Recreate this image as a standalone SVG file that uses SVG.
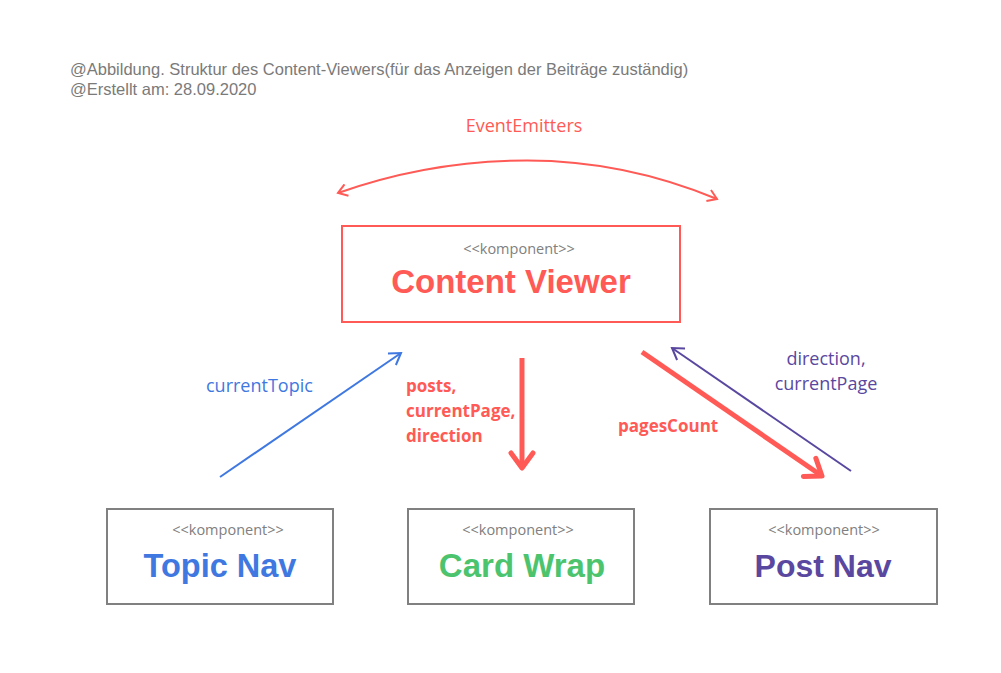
<svg xmlns="http://www.w3.org/2000/svg" width="1001" height="673" viewBox="0 0 1001 673">
<style>
.hdr{font-family:"Liberation Sans",Arial,sans-serif;font-size:16.5px;fill:#7a7a7a}
.box{fill:#fff;stroke:#808080;stroke-width:2}
.stereo{font-family:"Open Sans","Liberation Sans",sans-serif;font-size:14.5px;fill:#808080;text-anchor:middle}
.title{font-family:"Liberation Sans",Arial,sans-serif;font-weight:bold;text-anchor:middle}
.lbl{font-family:"Open Sans","Liberation Sans",sans-serif;font-size:18px}
.lblb{font-family:"Open Sans","Liberation Sans",sans-serif;font-size:17px;font-weight:bold;fill:#FF5A55}
</style>
<defs>
<marker id="hRed" markerWidth="14" markerHeight="14" refX="10" refY="6" orient="auto" markerUnits="userSpaceOnUse" viewBox="0 0 14 12">
<path d="M1,0 L10,6 L1,12" fill="none" stroke="#FF5A55" stroke-width="2"/>
</marker>
<marker id="hBlue" markerWidth="16" markerHeight="16" refX="12" refY="7" orient="auto" markerUnits="userSpaceOnUse" viewBox="0 0 16 14">
<path d="M1,0 L12,7 L1,14" fill="none" stroke="#3F78E0" stroke-width="2"/>
</marker>
<marker id="hPurple" markerWidth="16" markerHeight="16" refX="12" refY="7" orient="auto" markerUnits="userSpaceOnUse" viewBox="0 0 16 14">
<path d="M1,0 L12,7 L1,14" fill="none" stroke="#5A48A0" stroke-width="2"/>
</marker>
<marker id="hThick" markerWidth="28" markerHeight="30" refX="18" refY="13" orient="auto" markerUnits="userSpaceOnUse" viewBox="0 0 28 26">
<path d="M3,2 L18,13 L3,24" fill="none" stroke="#FF5A55" stroke-width="5" stroke-linecap="round" stroke-linejoin="round"/>
</marker>
</defs>
<rect width="1001" height="673" fill="#fff"/>
<g id="header">
<text class="hdr" x="70" y="75">@Abbildung. Struktur des Content-Viewers(für das Anzeigen der Beiträge zuständig)</text>
<text class="hdr" x="70" y="95">@Erstellt am: 28.09.2020</text>
</g>
<g id="connectors" fill="none">
<path d="M527,160.5 Q430,160.5 338,193" stroke="#FF5A55" stroke-width="2" marker-end="url(#hRed)"/>
<path d="M527,160.5 Q624,160.5 717,199" stroke="#FF5A55" stroke-width="2" marker-end="url(#hRed)"/>
<line x1="220" y1="477" x2="401" y2="353" stroke="#3F78E0" stroke-width="2" marker-end="url(#hBlue)"/>
<line x1="522" y1="358" x2="522" y2="468" stroke="#FF5A55" stroke-width="5" marker-end="url(#hThick)"/>
<line x1="642" y1="352" x2="822" y2="476" stroke="#FF5A55" stroke-width="5" marker-end="url(#hThick)"/>
<line x1="851" y1="471" x2="672" y2="348" stroke="#5A48A0" stroke-width="2" marker-end="url(#hPurple)"/>
<text class="lbl" x="524" y="132" text-anchor="middle" fill="#FF5A55">EventEmitters</text>
<text class="lbl" x="206" y="392" fill="#3F78E0">currentTopic</text>
<text class="lblb" x="406" y="392">posts,</text>
<text class="lblb" x="406" y="417">currentPage,</text>
<text class="lblb" x="406" y="442">direction</text>
<text class="lblb" x="618" y="432">pagesCount</text>
<text class="lbl" x="826" y="365" text-anchor="middle" fill="#5A48A0">direction,</text>
<text class="lbl" x="826" y="390" text-anchor="middle" fill="#5A48A0">currentPage</text>
</g>
<g id="content-viewer">
<rect x="342" y="226" width="338" height="96" fill="#fff" stroke="#FF5A55" stroke-width="2"/>
<text class="stereo" x="519" y="254">&lt;&lt;komponent&gt;&gt;</text>
<text class="title" x="511" y="293" font-size="33" fill="#FF5A55">Content Viewer</text>
</g>
<g id="topic-nav">
<rect class="box" x="107" y="509" width="226" height="95"/>
<text class="stereo" x="228" y="535">&lt;&lt;komponent&gt;&gt;</text>
<text class="title" x="220" y="577" font-size="32.5" fill="#3F78E0">Topic Nav</text>
</g>
<g id="card-wrap">
<rect class="box" x="408" y="509" width="226" height="95"/>
<text class="stereo" x="518" y="535">&lt;&lt;komponent&gt;&gt;</text>
<text class="title" x="522" y="577" font-size="33" fill="#4CC46E">Card Wrap</text>
</g>
<g id="post-nav">
<rect class="box" x="710" y="509" width="227" height="95"/>
<text class="stereo" x="824" y="535">&lt;&lt;komponent&gt;&gt;</text>
<text class="title" x="823" y="577" font-size="32" fill="#5A48A0">Post Nav</text>
</g>
</svg>
